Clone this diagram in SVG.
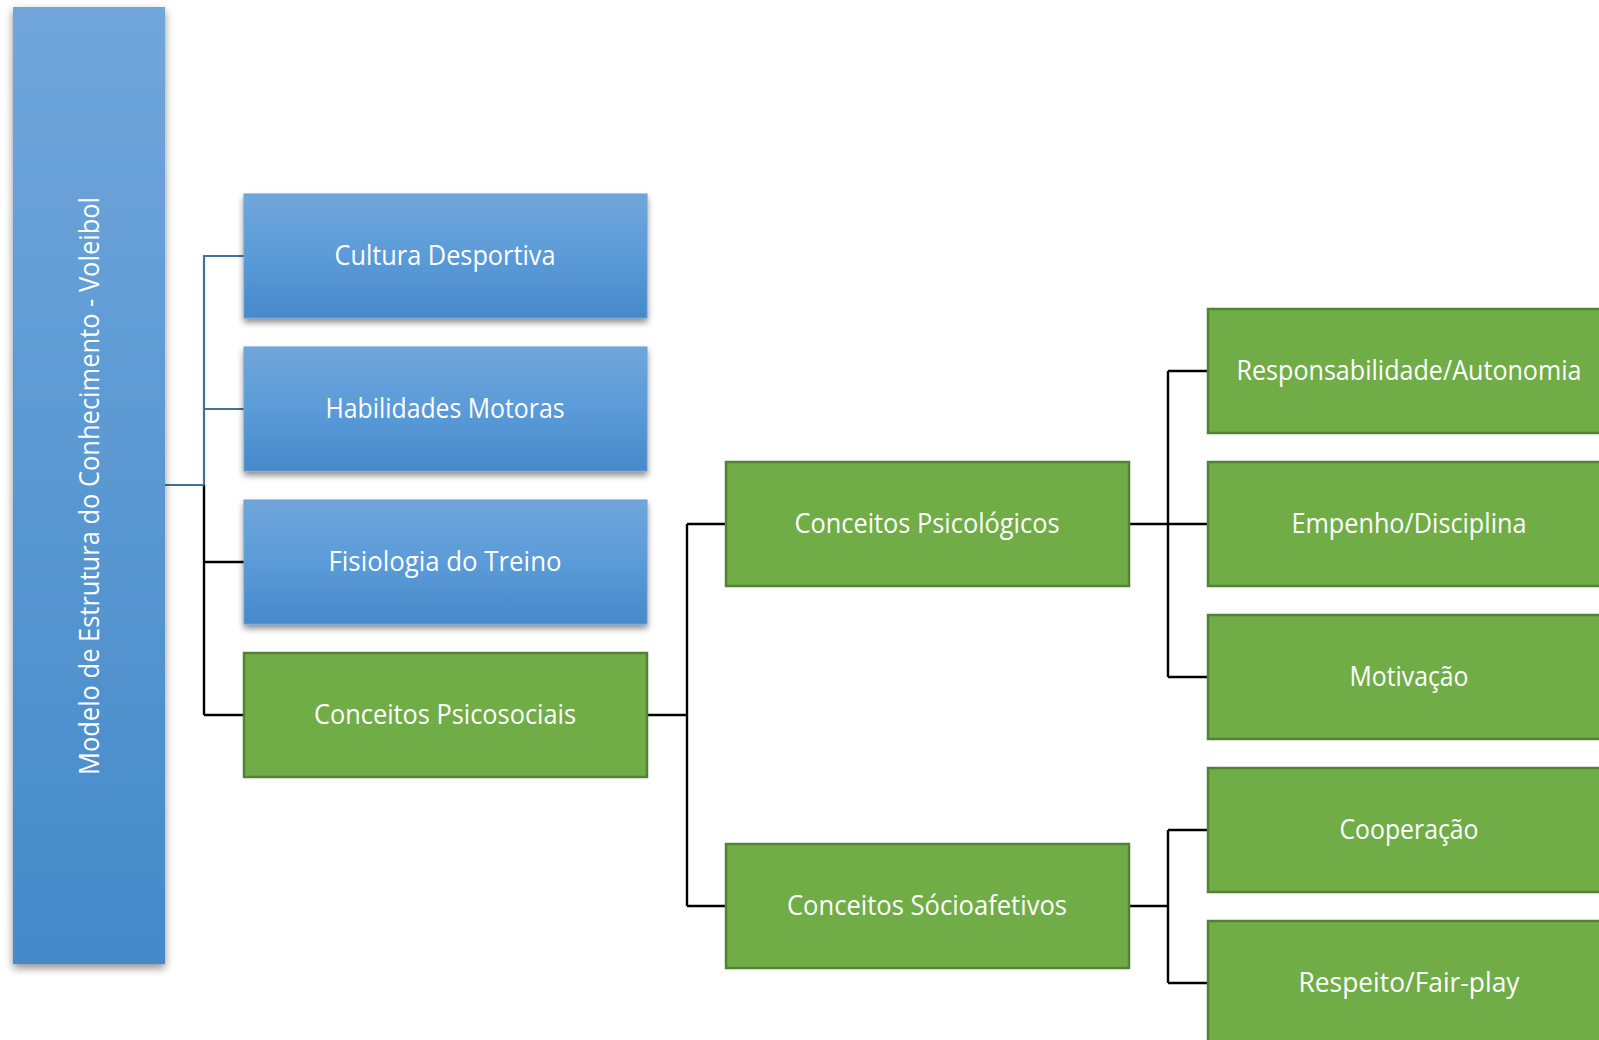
<svg xmlns="http://www.w3.org/2000/svg" width="1599" height="1040" viewBox="0 0 1599 1040">
<defs>
<linearGradient id="gBlue" x1="0" y1="0" x2="0" y2="1">
<stop offset="0" stop-color="#70A6DB"/>
<stop offset="0.5" stop-color="#5B9BD9"/>
<stop offset="1" stop-color="#4689C9"/>
</linearGradient>
<linearGradient id="gRoot" x1="0" y1="0" x2="0" y2="1">
<stop offset="0" stop-color="#70A6DB"/>
<stop offset="1" stop-color="#448AC9"/>
</linearGradient>
<filter id="shadow" x="-10%" y="-10%" width="120%" height="130%">
<feDropShadow dx="0" dy="4" stdDeviation="3" flood-color="#000" flood-opacity="0.45"/>
</filter>
<filter id="shadowRoot" x="-20%" y="-5%" width="140%" height="110%">
<feDropShadow dx="0" dy="4" stdDeviation="4" flood-color="#000" flood-opacity="0.45"/>
</filter>
</defs>
<style>
.blue{fill:url(#gBlue);stroke:#65A0D8;stroke-width:1;filter:url(#shadow)}
.green{fill:#70AD47;stroke:#548235;stroke-width:2.5}
.lbl{font-family:"Open Sans","DejaVu Sans",sans-serif;font-size:27.5px;fill:#FFFFFF;text-anchor:middle}
.cb{fill:none;stroke:#41719C;stroke-width:2.2}
.ck{fill:none;stroke:#000000;stroke-width:2.4}
</style>
<rect width="1599" height="1040" fill="#FFFFFF"/>
<g id="connectors">
<path class="ck" d="M204 485 V715 M204 562 H244 M204 715 H244"/>
<path class="cb" d="M165 485 H204 M204 485 V256 H244 M204 409 H244"/>
<path class="ck" d="M647 715 H687 M687 524 V906 M687 524 H726 M687 906 H726"/>
<path class="ck" d="M1129 524 H1168 M1168 371 V677 M1168 371 H1208 M1168 524 H1208 M1168 677 H1208"/>
<path class="ck" d="M1129 906 H1168 M1168 830 V983 M1168 830 H1208 M1168 983 H1208"/>
</g>
<g id="root">
<rect x="13" y="7" width="152" height="957" fill="url(#gRoot)" filter="url(#shadowRoot)"/>
<text class="lbl" transform="translate(98.5,486) rotate(-90)" textLength="578" lengthAdjust="spacingAndGlyphs">Modelo de Estrutura do Conhecimento - Voleibol</text>
</g>
<g id="cultura">
<rect class="blue" x="244" y="194" width="403" height="124"/>
<text class="lbl" x="445" y="265" textLength="221" lengthAdjust="spacingAndGlyphs">Cultura Desportiva</text>
</g>
<g id="habilidades">
<rect class="blue" x="244" y="347" width="403" height="124"/>
<text class="lbl" x="445" y="418" textLength="239" lengthAdjust="spacingAndGlyphs">Habilidades Motoras</text>
</g>
<g id="fisiologia">
<rect class="blue" x="244" y="500" width="403" height="124"/>
<text class="lbl" x="445" y="571" textLength="233" lengthAdjust="spacingAndGlyphs">Fisiologia do Treino</text>
</g>
<g id="psicosociais">
<rect class="green" x="244" y="653" width="403" height="124"/>
<text class="lbl" x="445" y="724" textLength="262" lengthAdjust="spacingAndGlyphs">Conceitos Psicosociais</text>
</g>
<g id="psicologicos">
<rect class="green" x="726" y="462" width="403" height="124"/>
<text class="lbl" x="927" y="533" textLength="265" lengthAdjust="spacingAndGlyphs">Conceitos Psicológicos</text>
</g>
<g id="socioafetivos">
<rect class="green" x="726" y="844" width="403" height="124"/>
<text class="lbl" x="927" y="915" textLength="280" lengthAdjust="spacingAndGlyphs">Conceitos Sócioafetivos</text>
</g>
<g id="responsabilidade">
<rect class="green" x="1208" y="309" width="403" height="124"/>
<text class="lbl" x="1409" y="380" textLength="345" lengthAdjust="spacingAndGlyphs">Responsabilidade/Autonomia</text>
</g>
<g id="empenho">
<rect class="green" x="1208" y="462" width="403" height="124"/>
<text class="lbl" x="1409" y="533" textLength="235" lengthAdjust="spacingAndGlyphs">Empenho/Disciplina</text>
</g>
<g id="motivacao">
<rect class="green" x="1208" y="615" width="403" height="124"/>
<text class="lbl" x="1409" y="686" textLength="119" lengthAdjust="spacingAndGlyphs">Motivação</text>
</g>
<g id="cooperacao">
<rect class="green" x="1208" y="768" width="403" height="124"/>
<text class="lbl" x="1409" y="839" textLength="139" lengthAdjust="spacingAndGlyphs">Cooperação</text>
</g>
<g id="respeito">
<rect class="green" x="1208" y="921" width="403" height="124"/>
<text class="lbl" x="1409" y="992" textLength="221" lengthAdjust="spacingAndGlyphs">Respeito/Fair-play</text>
</g>
</svg>
